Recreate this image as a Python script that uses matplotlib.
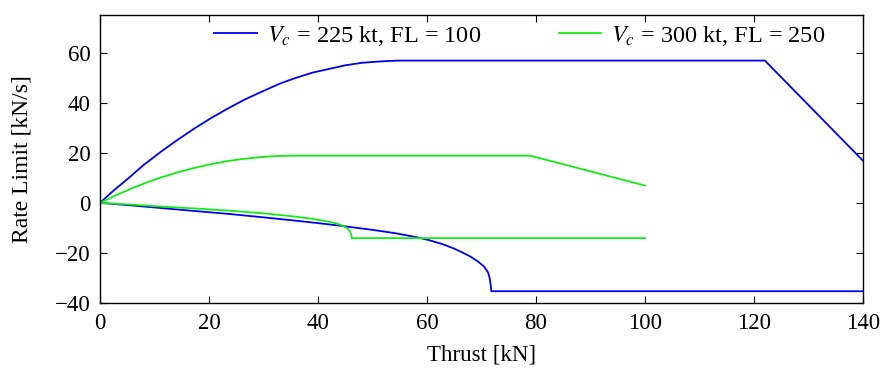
import matplotlib
matplotlib.use("Agg")
import matplotlib.pyplot as plt

# Upper limit, Vc = 225 kt, FL = 100
blue_up_x = [0, 2.5, 5.2, 8, 11.3, 14, 17.4, 20.5, 23.5, 26.5, 29.7, 33, 35.8, 39, 41.9, 45, 48, 51, 53, 54.5, 56, 122, 140]
blue_up_y = [0, 4.9, 9.8, 15.1, 20.6, 24.8, 29.8, 34.0, 37.7, 41.2, 44.4, 47.6, 49.8, 52.0, 53.4, 54.9, 55.9, 56.4, 56.65, 56.78, 56.8, 56.8, 16.8]
# Lower limit, Vc = 225 kt, FL = 100
blue_lo_x = [0, 5, 11.3, 17, 23.5, 30, 35.8, 40, 44.3, 50, 54.1, 58, 60.2, 63, 65, 66.4, 68, 69.4, 70.5, 71.2, 71.5, 71.7, 71.8, 140]
blue_lo_y = [0, -0.9, -2.1, -3.2, -4.4, -5.8, -7.1, -8.1, -9.2, -10.8, -12.1, -13.7, -14.8, -16.6, -18.3, -19.7, -21.5, -23.5, -25.5, -27.8, -30, -33, -35.3, -35.3]
# Upper limit, Vc = 300 kt, FL = 250
green_up_x = [0, 3, 6, 9, 11.3, 14, 17.4, 20.5, 23.5, 26.5, 29.7, 32.5, 35, 79, 100]
green_up_y = [0, 3.1, 5.9, 8.5, 10.2, 12.0, 14.0, 15.5, 16.7, 17.6, 18.3, 18.7, 18.8, 18.8, 6.9]
# Lower limit, Vc = 300 kt, FL = 250
green_lo_x = [0, 5, 11.3, 17, 23.5, 30, 35.8, 39, 41.9, 43.5, 44.6, 45.4, 45.9, 46.1, 46.2, 100]
green_lo_y = [0, -0.6, -1.5, -2.2, -3.1, -4.2, -5.5, -6.4, -7.5, -8.3, -9.2, -10.2, -11.5, -12.8, -14.1, -14.1]

labels = [r"$V_c$ = 225 kt, FL = 100", r"$V_c$ = 300 kt, FL = 250"]

plt.rcParams['font.family'] = ['Liberation Serif', 'DejaVu Serif']
plt.rcParams['mathtext.fontset'] = 'stix'
fs = 16.5

fig = plt.figure(figsize=(8.83, 3.77), dpi=100)
ax = fig.add_axes([100/883, 1-303/377, 763/883, 288/377])

blue = '#0000ee'
green = '#11ee11'
ax.plot(blue_up_x, blue_up_y, color=blue, lw=1.3, label=labels[0])
ax.plot(blue_lo_x, blue_lo_y, color=blue, lw=1.3)
ax.plot(green_up_x, green_up_y, color=green, lw=1.3, label=labels[1])
ax.plot(green_lo_x, green_lo_y, color=green, lw=1.3)

ax.set_xlim(0, 140)
ax.set_ylim(-40, 75)
ax.set_xticks([0, 20, 40, 60, 80, 100, 120, 140])
ax.set_yticks([-40, -20, 0, 20, 40, 60])
ax.tick_params(direction='in', top=True, right=True, length=5, width=0.8, labelsize=fs, pad=7)
for s in ax.spines.values():
    s.set_linewidth(1.0)
ax.set_xlabel("Thrust [kN]", fontsize=fs, labelpad=8)
ax.set_ylabel("Rate Limit [kN/s]", fontsize=fs + 0.5, labelpad=16)

ax.legend(loc='upper center', bbox_to_anchor=(0.55, 1.045), ncol=2, frameon=False,
          fontsize=17.5, handlelength=1.75, columnspacing=3.2, handletextpad=0.4)

fig.savefig("out.png", dpi=100)
